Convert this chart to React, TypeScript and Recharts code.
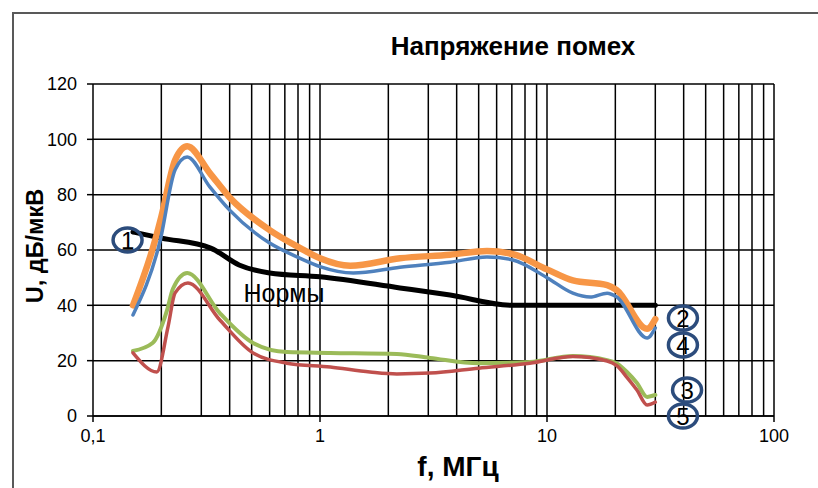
import {
  LineChart,
  Line,
  XAxis,
  YAxis,
  CartesianGrid,
  ReferenceLine,
  ReferenceDot,
} from 'recharts';

// [f, МГц ; U, дБ/мкВ]
const norms = [
  [0.15, 66.5], [0.2, 64.3], [0.33, 60.7], [0.44, 54.6], [0.6, 51.7], [1, 50.3],
  [2.25, 46.3], [3.74, 43.7], [7.08, 40], [30, 40],
];
const curve2 = [
  [0.15, 40], [0.187, 63], [0.2, 72], [0.23, 92.5], [0.26, 97.5], [0.327, 87.8],
  [0.4, 79], [0.6, 67.2], [0.818, 60.7], [1, 57], [1.36, 54.3], [2.25, 57],
  [3.74, 58.3], [5.44, 59.6], [7.08, 58.5], [10, 53], [13, 49], [18.4, 47.3],
  [20.3, 45.5], [27.6, 31.5], [30, 35],
];
const curve4 = [
  [0.15, 36.5], [0.197, 62.9], [0.23, 89], [0.26, 93.6], [0.327, 82.8], [0.4, 74.4],
  [0.6, 62.5], [0.818, 57], [1, 54], [1.4, 51.7], [2.25, 53.8], [3.74, 55.6],
  [5.44, 57.5], [7.08, 56.4], [10, 50], [13, 44.4], [15.5, 43], [18.4, 44.4],
  [20.3, 43], [27.6, 28.2], [30, 31.8],
];
const curve3 = [
  [0.15, 23.5], [0.183, 26.4], [0.212, 38.3], [0.225, 46], [0.26, 51.7], [0.362, 37.2],
  [0.507, 26.4], [0.714, 23.1], [1.11, 22.8], [2.18, 22.4], [3.05, 21], [5, 19.1],
  [8.4, 19.5], [13, 21.7], [18.4, 20.2], [20.3, 19], [22.5, 15.9], [24.9, 11.9],
  [27.6, 6.9], [30, 7.6],
];
const curve5 = [
  [0.15, 22.8], [0.191, 15.9], [0.214, 32.2], [0.23, 44.5], [0.262, 48.1], [0.362, 34.7],
  [0.507, 22.8], [0.714, 19.1], [1.11, 17.7], [1.66, 15.9], [2.18, 15.2], [3.05, 15.5],
  [5, 17.3], [8.4, 19.1], [13, 21.5], [18.4, 19.9], [20.3, 18.2], [22.5, 14],
  [24.9, 9.4], [27.6, 4], [30, 5],
];

const xTicks = [0.1, 1, 10, 100];
const yTicks = [0, 20, 40, 60, 80, 100, 120];
const minorTicks = [
  0.2, 0.3, 0.4, 0.5, 0.6, 0.7, 0.8, 0.9, 1,
  2, 3, 4, 5, 6, 7, 8, 9, 10,
  20, 30, 40, 50, 60, 70, 80, 90, 100,
];
// numbered markers: label, f, U
const markers: [string, number, number][] = [
  ['1', 0.142, 63.6],
  ['2', 39.7, 35.4],
  ['4', 39.7, 25.7],
  ['3', 41.4, 9.4],
  ['5', 39.7, 0],
];

const toRows = (pts: number[][]) => pts.map(([f, u]) => ({ f, u }));

const FONT = '"Liberation Sans", Arial, sans-serif';

const series = [
  { name: 'norms', data: toRows(norms), color: '#000000', width: 5 },
  { name: '2', data: toRows(curve2), color: '#F79646', width: 6.5 },
  { name: '4', data: toRows(curve4), color: '#4F81BD', width: 3.5 },
  { name: '3', data: toRows(curve3), color: '#9BBB59', width: 4 },
  { name: '5', data: toRows(curve5), color: '#C0504D', width: 3.5 },
];

const Marker = ({ cx, cy, text }: any) => (
  <g>
    <ellipse cx={cx} cy={cy} rx={14.5} ry={12} fill="none" stroke="#2C4C7C" strokeWidth={3.5} />
    <text x={cx} y={cy} dy="0.36em" textAnchor="middle" fontSize={24} fontFamily={FONT} fill="#000">
      {text}
    </text>
  </g>
);

export default function App() {
  return (
    <div style={{ position: 'absolute', left: 0, top: 0, width: 818, height: 488, overflow: 'hidden', background: '#fff', fontFamily: FONT }}>
      <div style={{ position: 'absolute', left: 12, top: 12, width: 900, height: 600, borderLeft: '2px solid #595959', borderTop: '2px solid #595959' }} />
      <div style={{ position: 'absolute', left: 513, top: 46, transform: 'translate(-50%, -50%)', fontSize: 26, fontWeight: 'bold', whiteSpace: 'nowrap' }}>
        Напряжение помех
      </div>
      <div style={{ position: 'absolute', left: 458, top: 467, transform: 'translate(-50%, -50%)', fontSize: 28, fontWeight: 'bold', whiteSpace: 'nowrap' }}>
        f, МГц
      </div>
      <div style={{ position: 'absolute', left: 35, top: 246, transform: 'translate(-50%, -50%) rotate(-90deg)', fontSize: 23.5, fontWeight: 'bold', whiteSpace: 'nowrap' }}>
        U, дБ/мкВ
      </div>
      <div style={{ position: 'absolute', left: 0, top: 0 }}>
        <LineChart width={818} height={488} margin={{ top: 84, right: 44, bottom: 42, left: 33 }}>
          <CartesianGrid vertical={false} stroke="#000" strokeWidth={1.5} />
          <XAxis
            dataKey="f"
            type="number"
            scale="log"
            domain={[0.1, 100]}
            ticks={xTicks}
            allowDataOverflow
            height={30}
            tickSize={6}
            tickMargin={7}
            stroke="#000"
            strokeWidth={1.5}
            tick={{ fill: '#000', fontSize: 18, fontFamily: FONT }}
            tickFormatter={(v) => String(v).replace('.', ',')}
          />
          <YAxis
            type="number"
            domain={[0, 120]}
            ticks={yTicks}
            width={60}
            tickSize={6}
            tickMargin={10}
            stroke="#000"
            strokeWidth={1.5}
            tick={{ fill: '#000', fontSize: 18, fontFamily: FONT }}
          />
          {minorTicks.map((v) => (
            <ReferenceLine key={v} x={v} stroke="#000" strokeWidth={1.5} />
          ))}
          {series.map((s) => (
            <Line
              key={s.name}
              data={s.data}
              dataKey="u"
              type="monotone"
              stroke={s.color}
              strokeWidth={s.width}
              dot={false}
              isAnimationActive={false}
              strokeLinecap="round"
            />
          ))}
          <ReferenceDot
            x={0.694}
            y={44.5}
            r={0}
            ifOverflow="visible"
            shape={(p: any) => (
              <text x={p.cx} y={p.cy} dy="0.36em" textAnchor="middle" fontSize={25} fontFamily={FONT} fill="#000">
                Нормы
              </text>
            )}
          />
          {markers.map(([t, f, u]) => (
            <ReferenceDot
              key={t}
              x={f}
              y={u}
              r={0}
              ifOverflow="visible"
              shape={(p: any) => <Marker cx={p.cx} cy={p.cy} text={t} />}
            />
          ))}
        </LineChart>
      </div>
    </div>
  );
}
